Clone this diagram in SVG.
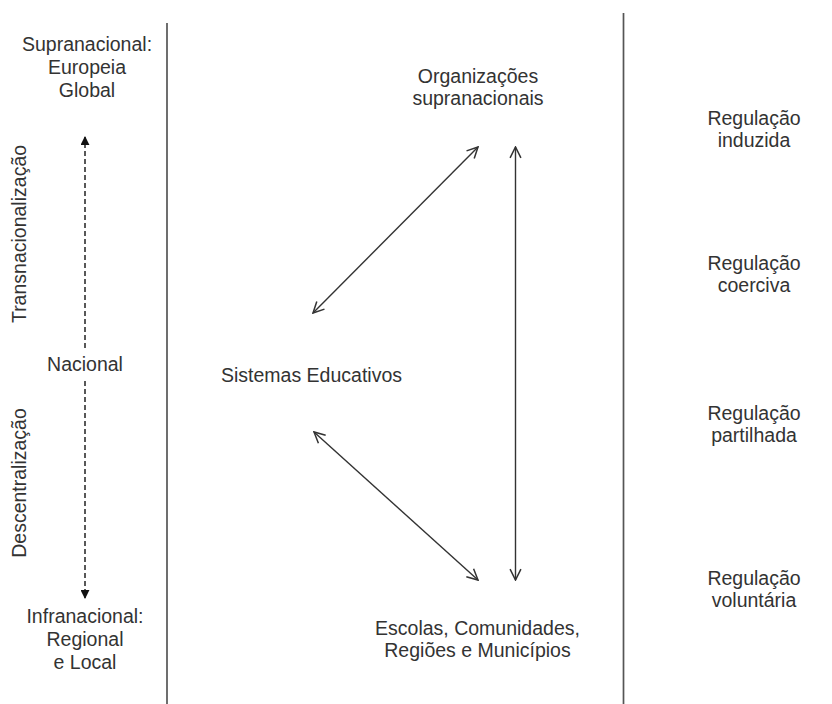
<svg xmlns="http://www.w3.org/2000/svg" width="832" height="704" viewBox="0 0 832 704">
  <style>
    text { font-family: "Liberation Sans", Arial, sans-serif; font-size: 19.5px; fill: #333; text-anchor: middle; }
    .divider { stroke: #555; stroke-width: 1.7; fill: none; }
    .link { stroke: #333; stroke-width: 1.4; fill: none; marker-start: url(#open); marker-end: url(#open); }
    .scale { stroke: #222; stroke-width: 1.5; fill: none; stroke-dasharray: 5 3; marker-end: url(#solid); }
  </style>
  <defs>
    <marker id="open" viewBox="0 0 12 12" refX="11" refY="6" markerWidth="13" markerHeight="13" markerUnits="userSpaceOnUse" orient="auto-start-reverse">
      <path d="M1,1 L11,6 L1,11" fill="none" stroke="#333" stroke-width="1.4"/>
    </marker>
    <marker id="solid" viewBox="0 0 10 10" refX="9" refY="5" markerWidth="9" markerHeight="9" markerUnits="userSpaceOnUse" orient="auto">
      <path d="M0,0 L10,5 L0,10 Z" fill="#111"/>
    </marker>
  </defs>

  <!-- column dividers -->
  <line class="divider" x1="167" y1="23" x2="167" y2="704"/>
  <line class="divider" x1="623.5" y1="13" x2="623.5" y2="704"/>

  <!-- territorial scale column -->
  <g id="supranacional">
    <text x="87" y="51">Supranacional:</text>
    <text x="87" y="74">Europeia</text>
    <text x="87" y="97">Global</text>
  </g>
  <g id="nacional">
    <text x="85" y="371">Nacional</text>
  </g>
  <g id="infranacional">
    <text x="85" y="623">Infranacional:</text>
    <text x="85" y="646">Regional</text>
    <text x="85" y="669">e Local</text>
  </g>
  <g id="transnacionalizacao">
    <text transform="translate(26,234) rotate(-90)">Transnacionalização</text>
  </g>
  <g id="descentralizacao">
    <text transform="translate(26,483) rotate(-90)">Descentralização</text>
  </g>

  <!-- actors -->
  <g id="organizacoes">
    <text x="478" y="83">Organizações</text>
    <text x="478" y="105">supranacionais</text>
  </g>
  <g id="sistemas">
    <text x="311.5" y="382">Sistemas Educativos</text>
  </g>
  <g id="escolas">
    <text x="477.5" y="635">Escolas, Comunidades,</text>
    <text x="477.5" y="657">Regiões e Municípios</text>
  </g>

  <!-- regulation types -->
  <g id="reg-induzida">
    <text x="754" y="125">Regulação</text>
    <text x="754" y="147">induzida</text>
  </g>
  <g id="reg-coerciva">
    <text x="754" y="270">Regulação</text>
    <text x="754" y="292">coerciva</text>
  </g>
  <g id="reg-partilhada">
    <text x="754" y="420">Regulação</text>
    <text x="754" y="442">partilhada</text>
  </g>
  <g id="reg-voluntaria">
    <text x="754" y="585">Regulação</text>
    <text x="754" y="607">voluntária</text>
  </g>

  <!-- connectors -->
  <g id="connectors">
    <line class="scale" x1="85" y1="348" x2="85" y2="137"/>
    <line class="scale" x1="85" y1="381" x2="85" y2="598"/>
    <line class="link" x1="313" y1="313" x2="478" y2="147"/>
    <line class="link" x1="515.5" y1="147" x2="515.5" y2="580"/>
    <line class="link" x1="314" y1="432" x2="478" y2="580"/>
  </g>
</svg>
